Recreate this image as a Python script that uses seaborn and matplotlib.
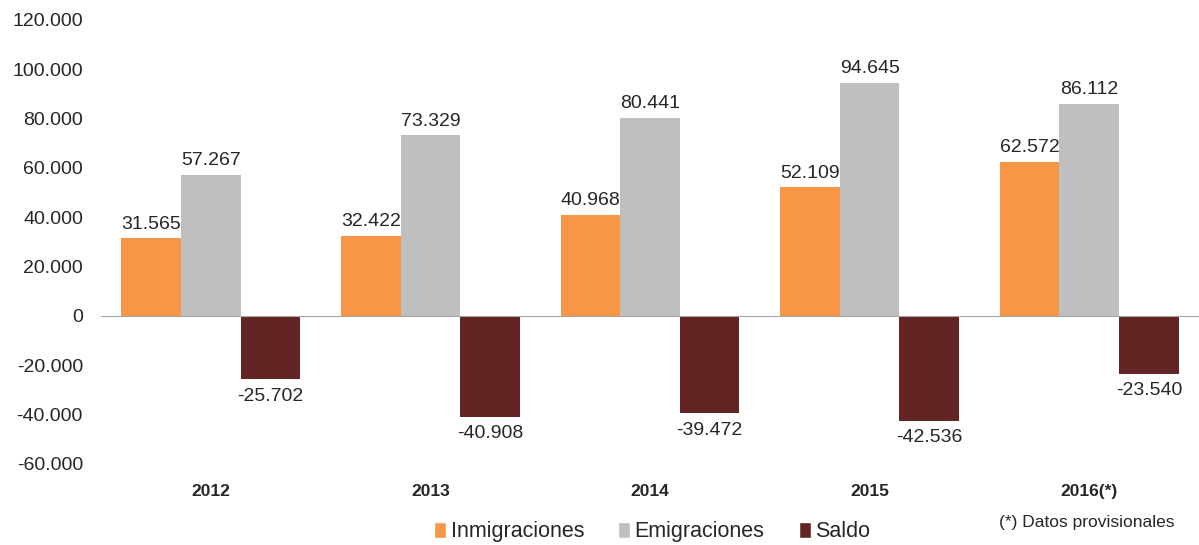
import pandas as pd
import matplotlib.pyplot as plt
import matplotlib.ticker as mticker
from matplotlib.patches import Patch
import seaborn as sns

# Datos del gráfico
years = ["2012", "2013", "2014", "2015", "2016(*)"]
inmigraciones = [31565, 32422, 40968, 52109, 62572]
emigraciones = [57267, 73329, 80441, 94645, 86112]
saldo = [-25702, -40908, -39472, -42536, -23540]
series = ["Inmigraciones", "Emigraciones", "Saldo"]
colors = ["#F79646", "#BFBFBF", "#632523"]

df = pd.DataFrame({
    "Año": years * 3,
    "Serie": [s for s in series for _ in years],
    "Valor": inmigraciones + emigraciones + saldo,
})

sns.set_style("white")
plt.rcParams["font.family"] = ["Liberation Sans", "DejaVu Sans"]

fig = plt.figure(figsize=(11.99, 5.45), dpi=100)
ax = fig.add_axes([101 / 1199, 81 / 545, 1 - 101 / 1199, 444 / 545])

sns.barplot(data=df, x="Año", y="Valor", hue="Serie", palette=colors,
            width=0.815, gap=0, saturation=1, legend=False, linewidth=0,
            edgecolor="none", ax=ax)

def fmt(v):
    return f"{v:,.0f}".replace(",", ".")

# Etiquetas de valores
for cont in ax.containers:
    for bar in cont:
        h = bar.get_height()
        x = bar.get_x() + bar.get_width() / 2
        if h >= 0:
            ax.annotate(fmt(h), (x, h), xytext=(0, 4), textcoords="offset points",
                        ha="center", va="bottom", fontsize=14)
        else:
            ax.annotate(fmt(h), (x, h), xytext=(0, -6), textcoords="offset points",
                        ha="center", va="top", fontsize=14)

ax.set_xlim(-0.5, len(years) - 0.5)
ax.set_ylim(-60000, 120000)
ax.yaxis.set_major_locator(mticker.MultipleLocator(20000))
ax.yaxis.set_major_formatter(mticker.FuncFormatter(lambda v, p: fmt(v)))
ax.tick_params(axis="y", length=0, pad=13, labelsize=14)

# Eje x en el cero con marcas entre categorías
for side in ["left", "right", "top"]:
    ax.spines[side].set_visible(False)
ax.spines["bottom"].set_position(("data", 0))
ax.spines["bottom"].set_color("#A6A6A6")
ax.set_xticks([i - 0.5 for i in range(len(years) + 1)], minor=True)
ax.tick_params(axis="x", which="minor", length=5, color="#A6A6A6", direction="out")
ax.tick_params(axis="x", which="major", length=0, pad=121, labelsize=12.5)
for lab in ax.get_xticklabels():
    lab.set_fontweight("bold")
ax.set_xlabel("")
ax.set_ylabel("")

handles = [Patch(facecolor=c, label=s) for c, s in zip(colors, series)]
fig.legend(handles=handles, loc="center", bbox_to_anchor=(0.544, 0.024), ncol=3,
           frameon=False, fontsize=15.5, handlelength=0.55, handleheight=0.8,
           handletextpad=0.2, columnspacing=1.6)

fig.text(1087 / 1199, 1 - 522 / 545, "(*) Datos provisionales",
         ha="center", va="center", fontsize=12.5)

fig.savefig("out.png", dpi=100)
